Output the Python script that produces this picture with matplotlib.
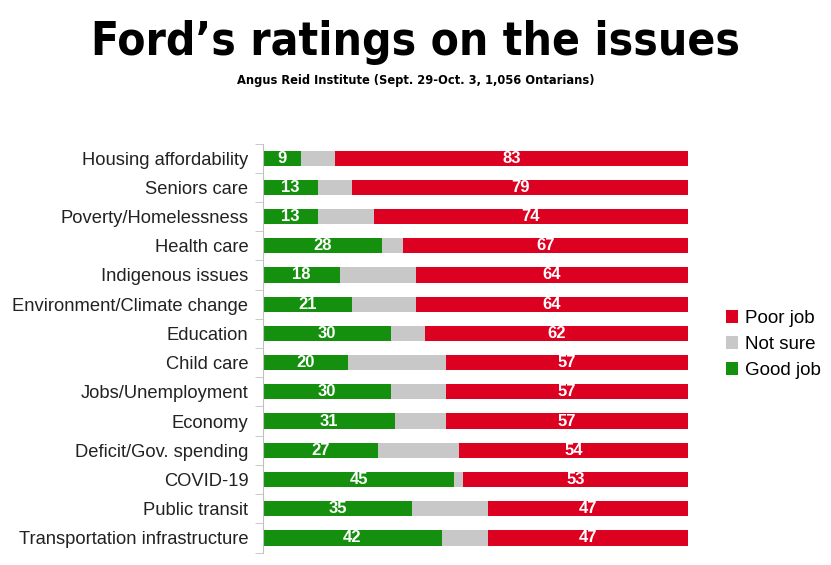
import matplotlib
matplotlib.use("Agg")
import matplotlib.pyplot as plt
import numpy as np

issues = ["Housing affordability", "Seniors care", "Poverty/Homelessness", "Health care",
          "Indigenous issues", "Environment/Climate change", "Education", "Child care",
          "Jobs/Unemployment", "Economy", "Deficit/Gov. spending", "COVID-19",
          "Public transit", "Transportation infrastructure"]
good = [9, 13, 13, 28, 18, 21, 30, 20, 30, 31, 27, 45, 35, 42]
notsure = [8, 8, 13, 5, 18, 15, 8, 23, 13, 12, 19, 2, 18, 11]
poor = [83, 79, 74, 67, 64, 64, 62, 57, 57, 57, 54, 53, 47, 47]

green = "#158f0e"
gray = "#c8c8c8"
red = "#dc0021"

plt.rcParams['font.family'] = ['Liberation Sans', 'DejaVu Sans']

fig = plt.figure(figsize=(8.31, 5.65), dpi=100)
ax = fig.add_axes([0.3165, 0.022, 0.5115, 0.724])

y = np.arange(len(issues))
good_a = np.array(good)
ns_a = np.array(notsure)
poor_a = np.array(poor)
h = 0.52
b1 = ax.barh(y, good_a, height=h, color=green, label="Good job")
b2 = ax.barh(y, ns_a, left=good_a, height=h, color=gray, label="Not sure")
b3 = ax.barh(y, poor_a, left=good_a + ns_a, height=h, color=red, label="Poor job")

# white value labels for good / poor segments
for i in range(len(issues)):
    ax.text(good_a[i] / 2, y[i], str(good[i]), ha="center", va="center",
            color="white", fontsize=12, fontweight="bold")
    ax.text(good_a[i] + ns_a[i] + poor_a[i] / 2, y[i], str(poor[i]), ha="center",
            va="center", color="white", fontsize=12, fontweight="bold")

ax.set_xlim(0, 100)
ax.set_ylim(len(issues) - 0.5, -0.5)
ax.set_yticks(y)
ax.set_yticklabels(issues, fontsize=13.2, color="#222222")
ax.set_yticks(np.arange(-0.5, len(issues), 1), minor=True)
ax.tick_params(axis="y", which="major", length=0, pad=10.5)
ax.tick_params(axis="y", which="minor", length=6, color="#c0c0c0", direction="out")
ax.set_xticks([])
for s in ["top", "right", "bottom"]:
    ax.spines[s].set_visible(False)
ax.spines["left"].set_color("#c0c0c0")

handles = [b3, b2, b1]
fig.legend(handles, [hh.get_label() for hh in handles], loc="center left",
           bbox_to_anchor=(0.853, 0.39), frameon=False, fontsize=13.5,
           handlelength=0.65, handleheight=0.65, handletextpad=0.4, labelspacing=0.47)

fig.text(0.5, 0.924, "Ford\u2019s ratings on the issues", ha="center", va="center",
         fontsize=33, family=["DejaVu Sans"], fontstretch="condensed", fontweight="bold")
fig.text(0.5, 0.857, "Angus Reid Institute (Sept. 29-Oct. 3, 1,056 Ontarians)",
         ha="center", va="center", fontsize=9.2, family=["DejaVu Sans"],
         fontstretch="condensed", fontweight="bold")

fig.savefig("out.png", dpi=100)
